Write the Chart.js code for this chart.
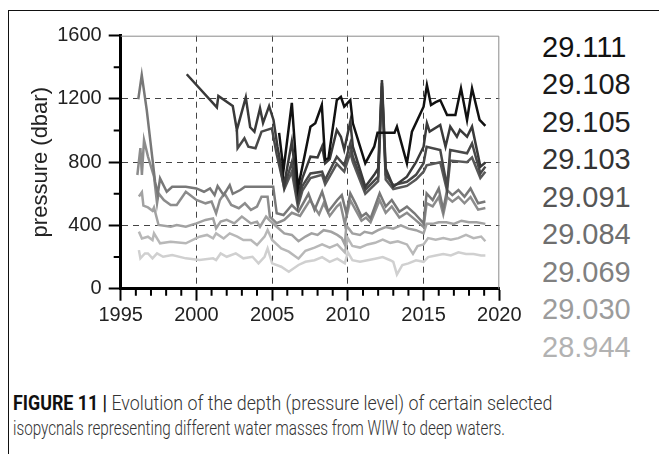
<!DOCTYPE html>
<html>
<head>
<meta charset="utf-8">
<script src="https://cdn.jsdelivr.net/npm/chart.js@4.4.1/dist/chart.umd.min.js"></script>
<style>
  body { margin:0; background:#fff; width:659px; height:454px; overflow:hidden; position:relative; font-family:"Liberation Sans", Arial, sans-serif; }
  #frame { position:absolute; left:8px; top:10px; width:700px; height:500px; border-top:1.5px solid #111; border-left:1.5px solid #111; }
  #wrap { position:absolute; left:0; top:0; width:540px; height:330px; }
  .iso { position:absolute; left:542px; font-size:29px; line-height:29px; font-family:Arial, "Liberation Sans", sans-serif; }
  .cap { position:absolute; left:13px; font-size:20px; line-height:22px; color:#333; white-space:nowrap; transform-origin:left center; font-family:Roboto, "Liberation Sans", sans-serif; font-weight:300; }
  .cap b { color:#111; font-weight:700; }
</style>
</head>
<body>
<div id="frame"></div>
<div id="wrap"><canvas id="myChart"></canvas></div>
<div id="labels"></div>
<div class="cap" id="cap1" style="top:392px"><b>FIGURE 11 |</b> Evolution of the depth (pressure level) of certain selected</div>
<div class="cap" id="cap2" style="top:417px">isopycnals representing different water masses from WIW to deep waters.</div>
<script>
// isopycnal names (legend text on the right)
var isopycnals = ["29.111", "29.108", "29.105", "29.103", "29.091", "29.084", "29.069", "29.030", "28.944"];

// time (decimal year) and pressure (dbar) for each isopycnal
var t111 = [2005.46, 2005.75, 2006.3, 2006.7, 2007.1, 2007.53, 2007.85, 2008.28, 2008.5, 2008.72, 2009.27, 2009.54, 2009.76, 2010.16, 2010.33, 2011.15, 2011.74, 2011.96, 2013.08, 2013.24, 2013.9, 2014.23, 2015.0, 2015.22, 2015.49, 2015.8, 2016.1, 2016.55, 2017.1, 2017.47, 2017.87, 2018.2, 2018.7, 2019.08];
var p111 = [985, 750, 1175, 636, 820, 1025, 1047, 1162, 814, 826, 1193, 1214, 1151, 1193, 1046, 793, 898, 987, 987, 1025, 793, 993, 1151, 1288, 1162, 1180, 1193, 1098, 1098, 1267, 1067, 1267, 1067, 1029];

var t108 = [1999.36, 2001.35, 2001.45, 2002.4, 2002.67, 2003.26, 2003.55, 2003.83, 2004.2, 2004.4, 2004.8, 2005.09, 2005.35, 2005.8, 2006.3, 2006.7, 2007.0, 2007.53, 2008.0, 2008.3, 2008.5, 2008.8, 2009.27, 2009.54, 2009.76, 2010.16, 2010.33, 2011.15, 2011.74, 2012.0, 2012.25, 2012.5, 2013.0, 2013.9, 2014.5, 2015.0, 2015.22, 2015.4, 2016.1, 2016.45, 2016.76, 2017.2, 2017.4, 2017.87, 2018.2, 2018.75, 2019.08];
var p108 = [1356, 1147, 1219, 1155, 1004, 1210, 1021, 993, 1141, 1048, 1155, 1067, 900, 660, 930, 580, 700, 835, 830, 900, 793, 820, 1004, 961, 880, 1056, 898, 645, 720, 760, 1320, 760, 645, 708, 800, 898, 1046, 993, 1035, 898, 1025, 961, 1004, 961, 1025, 772, 798];

var t105 = [2002.67, 2002.72, 2003.17, 2003.43, 2003.9, 2004.3, 2004.98, 2005.3, 2005.8, 2006.3, 2006.7, 2007.0, 2007.53, 2008.3, 2008.5, 2009.27, 2009.76, 2010.16, 2010.33, 2011.15, 2012.0, 2012.25, 2012.5, 2013.0, 2013.9, 2014.5, 2015.0, 2015.2, 2016.1, 2016.55, 2016.76, 2017.87, 2018.2, 2018.75, 2019.08];
var p105 = [1004, 888, 951, 898, 888, 993, 1014, 850, 640, 800, 550, 650, 729, 740, 688, 835, 780, 919, 835, 625, 708, 1300, 720, 655, 676, 720, 793, 898, 877, 645, 877, 856, 919, 729, 772];

var t103 = [2005.46, 2005.8, 2006.3, 2006.7, 2007.0, 2007.53, 2008.3, 2008.5, 2009.27, 2009.76, 2010.16, 2010.33, 2011.15, 2012.0, 2012.25, 2012.5, 2013.0, 2013.9, 2014.5, 2015.0, 2015.2, 2016.1, 2016.55, 2016.76, 2017.87, 2018.2, 2018.75, 2019.08];
var p103 = [820, 630, 740, 520, 620, 700, 720, 660, 790, 740, 860, 800, 600, 680, 1280, 690, 630, 650, 690, 740, 780, 800, 620, 810, 800, 830, 700, 740];

var t091 = [1996.16, 1996.39, 1996.72, 1997.27, 1997.45, 1997.6, 1998.04, 1998.4, 1999.3, 2000.0, 2000.5, 2000.9, 2001.2, 2001.4, 2001.8, 2002.2, 2002.4, 2002.9, 2003.2, 2005.07, 2005.3, 2005.75, 2006.3, 2006.74, 2007.4, 2007.8, 2008.3, 2008.7, 2009.3, 2009.6, 2009.9, 2010.16, 2010.5, 2010.9, 2011.2, 2011.5, 2012.1, 2012.5, 2012.9, 2013.4, 2013.9, 2014.4, 2015.0, 2015.2, 2015.6, 2016.0, 2016.3, 2016.55, 2016.9, 2017.3, 2017.7, 2018.1, 2018.6, 2019.08];
var p091 = [1198, 1351, 1130, 677, 600, 698, 613, 645, 645, 634, 613, 634, 592, 649, 592, 655, 600, 624, 645, 645, 477, 466, 529, 487, 600, 498, 613, 487, 561, 592, 477, 603, 540, 456, 477, 445, 603, 519, 561, 487, 519, 477, 413, 603, 561, 634, 498, 624, 592, 624, 582, 634, 540, 551];

var t084 = [1996.1, 1996.3, 1996.4, 1996.54, 1996.8, 1997.2, 1997.4, 1997.5, 1997.85, 1998.3, 1998.7, 1999.3, 2000.0, 2000.6, 2001.0, 2001.3, 2001.55, 2001.85, 2002.3, 2002.8, 2003.2, 2003.6, 2004.0, 2004.3, 2004.7, 2004.85, 2005.3, 2005.8, 2006.3, 2006.84, 2007.5, 2008.1, 2008.4, 2008.8, 2009.27, 2009.5, 2009.8, 2010.16, 2010.5, 2010.9, 2011.2, 2011.5, 2012.1, 2012.5, 2012.9, 2013.4, 2013.9, 2014.4, 2015.0, 2015.2, 2015.6, 2016.0, 2016.3, 2016.55, 2016.9, 2017.3, 2017.7, 2018.1, 2018.6, 2019.08];
var p084 = [719, 889, 719, 940, 836, 709, 540, 603, 561, 530, 530, 613, 561, 540, 551, 477, 561, 603, 530, 509, 540, 498, 519, 582, 582, 456, 414, 435, 480, 460, 560, 470, 540, 460, 520, 540, 410, 560, 500, 430, 450, 420, 560, 480, 520, 450, 480, 440, 390, 540, 520, 580, 470, 580, 550, 580, 540, 580, 500, 510];

var t069 = [1996.2, 1996.4, 1996.5, 1996.8, 1997.1, 1997.2, 1997.5, 1998.3, 1998.7, 1999.3, 2000.0, 2000.6, 2001.1, 2001.3, 2001.6, 2002.0, 2002.5, 2003.0, 2003.6, 2004.0, 2004.2, 2004.6, 2004.8, 2005.3, 2005.8, 2006.3, 2006.74, 2007.2, 2007.6, 2008.0, 2008.4, 2008.9, 2009.3, 2009.6, 2009.8, 2009.9, 2010.3, 2010.8, 2011.1, 2011.6, 2012.0, 2012.5, 2013.0, 2013.5, 2014.0, 2014.5, 2015.0, 2015.2, 2015.6, 2016.0, 2016.5, 2017.0, 2017.5, 2018.0, 2018.5, 2019.08];
var p069 = [583, 610, 525, 514, 493, 514, 403, 392, 403, 392, 413, 435, 445, 382, 424, 435, 413, 456, 413, 424, 392, 456, 435, 392, 350, 340, 300, 330, 350, 340, 370, 360, 340, 320, 280, 400, 350, 340, 360, 350, 370, 390, 380, 400, 380, 370, 350, 410, 410, 420, 420, 410, 430, 420, 420, 410];

var t030 = [1996.2, 1996.4, 1996.8, 1997.1, 1997.2, 1997.6, 1998.3, 1999.3, 2000.2, 2000.7, 2001.1, 2001.3, 2001.8, 2002.2, 2002.7, 2003.1, 2003.6, 2004.0, 2004.5, 2004.7, 2005.0, 2005.6, 2006.1, 2006.74, 2007.2, 2007.8, 2008.3, 2008.8, 2009.3, 2009.8, 2010.0, 2010.3, 2010.8, 2011.3, 2011.8, 2012.3, 2012.8, 2013.3, 2013.9, 2014.3, 2014.6, 2015.0, 2015.3, 2015.8, 2016.3, 2016.8, 2017.3, 2017.8, 2018.3, 2018.8, 2019.08];
var p030 = [361, 318, 329, 308, 350, 287, 297, 287, 329, 340, 318, 350, 318, 350, 329, 308, 308, 276, 329, 371, 308, 255, 234, 190, 240, 260, 280, 260, 280, 230, 320, 270, 260, 280, 290, 310, 290, 300, 280, 220, 270, 280, 320, 310, 320, 310, 320, 340, 320, 330, 300];

var t944 = [1996.2, 1996.3, 1996.6, 1996.8, 1997.1, 1997.4, 1997.8, 1998.4, 1999.3, 2000.2, 2001.1, 2001.3, 2001.6, 2002.0, 2002.6, 2003.1, 2003.7, 2004.1, 2004.5, 2004.7, 2005.0, 2005.6, 2006.1, 2006.74, 2007.2, 2007.8, 2008.3, 2008.8, 2009.3, 2009.8, 2010.0, 2010.3, 2010.8, 2011.3, 2011.8, 2012.3, 2012.8, 2013.0, 2013.24, 2013.6, 2014.0, 2014.5, 2015.0, 2015.3, 2015.8, 2016.3, 2016.8, 2017.3, 2017.8, 2018.3, 2018.8, 2019.08];
var p944 = [244, 192, 223, 223, 192, 223, 202, 213, 192, 181, 192, 181, 223, 202, 223, 192, 202, 160, 202, 255, 160, 139, 107, 150, 170, 180, 200, 170, 190, 160, 230, 180, 170, 180, 190, 200, 180, 170, 90, 150, 160, 180, 170, 200, 210, 220, 210, 230, 220, 220, 210, 210];

var xTicks = [1995, 2000, 2005, 2010, 2015, 2020];
var yTicks = [0, 400, 800, 1200, 1600];

// styles
var lineGrays = ["#111111", "#3a3a3a", "#484848", "#585858", "#787878", "#8c8c8c", "#a2a2a2", "#b8b8b8", "#d0d0d0"];
var textGrays = ["#111111", "#1a1a1a", "#222222", "#333333", "#555555", "#6e6e6e", "#808080", "#9c9c9c", "#b2b2b2"];

var times = [t111, t108, t105, t103, t091, t084, t069, t030, t944];
var pressures = [p111, p108, p105, p103, p091, p084, p069, p030, p944];

var datasets = isopycnals.map(function (name, i) {
    return {
        label: name,
        data: times[i].map(function (t, j) { return { x: t, y: pressures[i][j] }; }),
        borderColor: lineGrays[i],
        borderWidth: 2.5,
        pointRadius: 0,
        tension: 0,
        fill: false
    };
});

// right hand labels
var $labels = document.getElementById("labels");
isopycnals.forEach(function (name, i) {
    var d = document.createElement("div");
    d.className = "iso";
    d.style.top = (32.6 + i * 37.5) + "px";
    d.style.color = textGrays[i];
    d.textContent = name;
    $labels.appendChild(d);
});

// fit caption lines to the width in the figure
[["cap1", 539], ["cap2", 492]].forEach(function (c) {
    var el = document.getElementById(c[0]);
    el.style.transform = "scaleX(" + (c[1] / el.offsetWidth) + ")";
});

// plot frame (thin top/right) and the minor ticks
var minorTicks = {
    id: "minorTicks",
    beforeDatasetsDraw: function (chart) {
        var ctx = chart.ctx, a = chart.chartArea;
        ctx.save();
        ctx.strokeStyle = "#8a8a8a";
        ctx.lineWidth = 1;
        ctx.beginPath();
        ctx.moveTo(a.left, a.top + 0.5);
        ctx.lineTo(a.right - 0.5, a.top + 0.5);
        ctx.lineTo(a.right - 0.5, a.bottom);
        ctx.stroke();
        ctx.restore();
    },
    afterDraw: function (chart) {
        var ctx = chart.ctx, a = chart.chartArea;
        var x = chart.scales.x, y = chart.scales.y;
        ctx.save();
        ctx.strokeStyle = "#000";
        ctx.lineWidth = 2;
        ctx.beginPath();
        for (var yr = 1996; yr < 2020; yr++) {
            if (yr % 5 === 0) continue;
            var px = x.getPixelForValue(yr);
            ctx.moveTo(px, a.bottom);
            ctx.lineTo(px, a.bottom + 7);
        }
        for (var v = 200; v < 1600; v += 400) {
            var py = y.getPixelForValue(v);
            ctx.moveTo(a.left, py);
            ctx.lineTo(a.left - 7, py);
        }
        ctx.stroke();
        ctx.restore();
    }
};

var tickFont = { family: "Arial, 'Liberation Sans', sans-serif", size: 20 };

new Chart("myChart", {
    type: "line",
    data: { datasets: datasets },
    plugins: [minorTicks],
    options: {
        responsive: true,
        maintainAspectRatio: false,
        animation: false,
        layout: { padding: { left: 28, top: 35.7, right: 40.7, bottom: 0 } },
        plugins: {
            legend: { display: false },
            tooltip: { enabled: false }
        },
        scales: {
            x: {
                type: "linear",
                min: 1995,
                max: 2020,
                afterBuildTicks: function (s) { s.ticks = xTicks.map(function (v) { return { value: v }; }); },
                afterFit: function (s) { s.height = 41.3; },
                ticks: {
                    color: "#222", font: tickFont, padding: 3, maxRotation: 0, autoSkip: false,
                    callback: function (v) { return String(v); }
                },
                grid: {
                    color: function (c) { return (c.tick && c.tick.value > 1995 && c.tick.value < 2020) ? "#444" : "rgba(0,0,0,0)"; },
                    lineWidth: 1,
                    tickColor: "#000",
                    tickLength: 12,
                    tickWidth: 2
                },
                border: { color: "#000", width: 3, dash: [6, 5] }
            },
            y: {
                min: 0,
                max: 1600,
                afterBuildTicks: function (s) { s.ticks = yTicks.map(function (v) { return { value: v }; }); },
                afterFit: function (s) { s.width = 92.7; },
                ticks: {
                    color: "#222", font: tickFont, padding: 7,
                    callback: function (v) { return String(v); }
                },
                title: {
                    display: true,
                    text: "pressure (dbar)",
                    color: "#222",
                    font: { family: "Arial, 'Liberation Sans', sans-serif", size: 22 },
                    padding: { top: 0, bottom: 0 }
                },
                grid: {
                    color: function (c) { return (c.tick && c.tick.value > 0 && c.tick.value < 1600) ? "#444" : "rgba(0,0,0,0)"; },
                    lineWidth: 1,
                    tickColor: "#000",
                    tickLength: 12,
                    tickWidth: 2
                },
                border: { color: "#000", width: 3, dash: [6, 5] }
            }
        }
    }
});
</script>
</body>
</html>
